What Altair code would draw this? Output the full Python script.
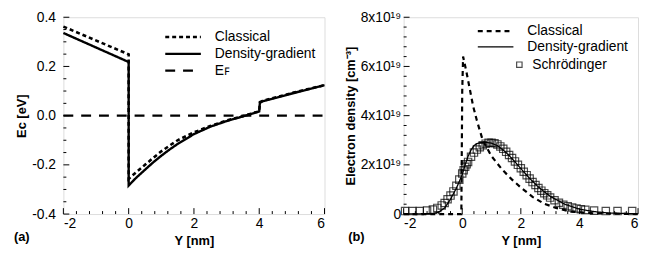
import altair as alt
import pandas as pd

# ---------------- Panel (a): conduction band edge ----------------
a_cl_x = [-2, 0, 0, 0.1, 0.25, 0.5, 0.75, 1, 1.25, 1.5, 2, 2.5, 3, 3.5, 4, 4.02, 4.1, 5, 6]
a_cl_y = [0.362, 0.249, -0.257, -0.245, -0.228, -0.2, -0.172, -0.145, -0.122, -0.1, -0.068,
          -0.042, -0.02, -0.002, 0.018, 0.055, 0.06, 0.092, 0.124]
a_dg_x = [-2, 0, 0, 0.1, 0.25, 0.5, 0.75, 1, 1.25, 1.5, 2, 2.5, 3, 3.5, 4, 4.02, 4.1, 5, 6]
a_dg_y = [0.336, 0.218, -0.284, -0.27, -0.25, -0.22, -0.19, -0.163, -0.138, -0.115, -0.075,
          -0.045, -0.022, -0.003, 0.017, 0.052, 0.058, 0.09, 0.124]
a_ef_x = [-2, 6]
a_ef_y = [0, 0]
a_series = ["Classical", "Density-gradient", "Eꜰ"]

# ---------------- Panel (b): electron density (x10^19 cm^-3) ----------------
b_cl_x = [-2, -0.03, 0.0, 0.03, 0.14, 0.37, 0.5, 0.7, 1.0, 1.37, 1.7, 2.0, 2.4, 2.8, 3.2, 3.7, 4.5, 6]
b_cl_v = [0, 0, 5.0, 6.4, 5.8, 4.4, 3.8, 3.0, 2.35, 1.8, 1.4, 1.08, 0.7, 0.42, 0.25, 0.1, 0.03, 0]
b_dg_x = [-2, -1.0, -0.8, -0.6, -0.4, -0.2, 0, 0.1, 0.2, 0.3, 0.4, 0.5, 0.6, 0.8, 1.0, 1.2,
          1.4, 1.6, 1.8, 2.0, 2.3, 2.6, 3.0, 3.5, 4.0, 4.5, 5, 6]
b_dg_v = [0, 0.02, 0.08, 0.25, 0.6, 1.05, 1.6, 2.0, 2.35, 2.6, 2.78, 2.86, 2.9, 2.92, 2.88, 2.78,
          2.6, 2.38, 2.12, 1.85, 1.45, 1.1, 0.72, 0.4, 0.2, 0.1, 0.04, 0.01]
b_sch_x = [-1.95, -1.7, -1.45, -1.2, -1.0, -0.85, -0.7, -0.6, -0.5, -0.4, -0.3, -0.2, -0.1, 0,
           0.05, 0.1, 0.15, 0.2, 0.3, 0.4, 0.5, 0.6, 0.7, 0.8, 0.9, 1.0, 1.1, 1.2, 1.3, 1.4, 1.5,
           1.6, 1.7, 1.8, 1.9, 2.0, 2.1, 2.2, 2.3, 2.4, 2.5, 2.6, 2.7, 2.8, 2.9, 3.0, 3.15, 3.3,
           3.45, 3.6, 3.75, 3.9, 4.05, 4.2, 4.5, 4.9, 5.3, 5.8]
b_sch_v = [0.12, 0.12, 0.12, 0.14, 0.18, 0.25, 0.35, 0.45, 0.6, 0.75, 0.92, 1.15, 1.4, 1.65,
           1.78, 1.92, 2.02, 2.12, 2.33, 2.5, 2.62, 2.72, 2.8, 2.86, 2.9, 2.9, 2.88, 2.83, 2.75,
           2.65, 2.53, 2.4, 2.28, 2.14, 2.0, 1.86, 1.72, 1.58, 1.44, 1.3, 1.18, 1.06, 0.95, 0.85,
           0.76, 0.67, 0.56, 0.46, 0.38, 0.32, 0.27, 0.23, 0.2, 0.17, 0.14, 0.12, 0.12, 0.12]
b_series = ["Classical", "Density-gradient"]

# ---------------- ticks ----------------
x_major = [-2, 0, 2, 4, 6]
x_minor = [-1.6, -1.2, -0.8, -0.4, 0.4, 0.8, 1.2, 1.6, 2.4, 2.8, 3.2, 3.6, 4.4, 4.8, 5.2, 5.6]
a_y_major = [-0.4, -0.2, 0.0, 0.2, 0.4]
a_y_minor = [-0.35, -0.3, -0.25, -0.15, -0.1, -0.05, 0.05, 0.1, 0.15, 0.25, 0.3, 0.35]
b_y_major = [0, 2, 4, 6, 8]
b_y_minor = [0.4, 0.8, 1.2, 1.6, 2.4, 2.8, 3.2, 3.6, 4.4, 4.8, 5.2, 5.6, 6.4, 6.8, 7.2, 7.6]

FONT = "Liberation Sans"
W1, W2, H = 264, 237, 199


def mk(series, xs, ys):
    return pd.DataFrame({"series": series, "x": xs, "y": ys, "i": list(range(len(xs)))})


dfa = pd.concat([
    mk(a_series[0], a_cl_x, a_cl_y),
    mk(a_series[1], a_dg_x, a_dg_y),
    mk(a_series[2], a_ef_x, a_ef_y),
])
dfb = pd.concat([
    mk(b_series[0], b_cl_x, b_cl_v),
    mk(b_series[1], b_dg_x, b_dg_v),
])
dfs = pd.DataFrame({"series": "Schrödinger", "x": b_sch_x, "y": b_sch_v})

x_scale = alt.Scale(domain=[-2, 6], nice=False, zero=False)
ya_scale = alt.Scale(domain=[-0.4, 0.4], nice=False, zero=False)
yb_scale = alt.Scale(domain=[0, 8], nice=False, zero=False)

common_axis = dict(ticks=False, domain=False, grid=False, labelFont=FONT, labelFontSize=14,
                   labelColor="black", titleFont=FONT, titleFontSize=13, titleFontWeight="bold",
                   titleColor="black")

x_axis = alt.Axis(values=x_major, title="Y [nm]", labelPadding=3, titlePadding=4,
                  labelExpr="(datum.value < 0 ? '-' : '') + abs(datum.value)", **common_axis)
ya_axis = alt.Axis(values=a_y_major, title="Eᴄ [eV]", labelPadding=8, titlePadding=3,
                   labelExpr="(datum.value < 0 ? '-' : '') + format(abs(datum.value), '.1f')",
                   **common_axis)
yb_axis = alt.Axis(values=b_y_major, title="Electron density [cm⁻³]", labelPadding=3,
                   titlePadding=3,
                   labelExpr="datum.value == 0 ? '0' : datum.value + 'x10¹⁹'", **common_axis)

# flat, wide custom line symbol (length ~36 px at size 81)
LINE_SYM = "M-4,0H4"
leg_common = dict(orient="none", title=None, symbolType=LINE_SYM, symbolSize=81,
                  symbolStrokeColor="black", labelFont=FONT, labelFontSize=14,
                  labelColor="black", labelOffset=25, padding=0)


def tick_layers(y_scale, x_ax, y_ax, ymaj, ymin, h):
    out = []
    for vals, ln in ((x_major, 6), (x_minor, 3)):
        d = pd.DataFrame({"t": vals})
        out.append(alt.Chart(d).mark_rule(color="black", strokeWidth=1).encode(
            x=alt.X("t:Q", scale=x_scale, axis=x_ax),
            y=alt.value(h), y2=alt.value(h - ln)))
    for vals, ln in ((ymaj, 6), (ymin, 3)):
        d = pd.DataFrame({"t": vals})
        out.append(alt.Chart(d).mark_rule(color="black", strokeWidth=1).encode(
            y=alt.Y("t:Q", scale=y_scale, axis=y_ax),
            x=alt.value(0), x2=alt.value(ln)))
    return out


# ---- left panel ----
leg_a = alt.Legend(legendX=114, legendY=13, rowPadding=3, **leg_common)
lines_a = alt.Chart(dfa).mark_line(color="black").encode(
    x=alt.X("x:Q", scale=x_scale, axis=x_axis),
    y=alt.Y("y:Q", scale=ya_scale, axis=ya_axis),
    strokeDash=alt.StrokeDash("series:N", scale=alt.Scale(domain=a_series,
                              range=[[4, 3], [1, 0], [10, 8]]), legend=leg_a),
    strokeWidth=alt.StrokeWidth("series:N", scale=alt.Scale(domain=a_series,
                                range=[2.6, 2.2, 1.2]), legend=leg_a),
    order="i:Q",
)
lab_a = alt.Chart(pd.DataFrame({"t": ["(a)"]})).mark_text(
    align="left", baseline="middle", font=FONT, fontSize=13, fontWeight="bold", color="black"
).encode(text="t:N", x=alt.value(-50), y=alt.value(H + 23))

left = alt.layer(lines_a, *tick_layers(ya_scale, x_axis, ya_axis, a_y_major, a_y_minor, H),
                 lab_a).properties(width=W1, height=H)

# ---- right panel ----
leg_b = alt.Legend(legendX=86, legendY=7, rowPadding=2, **leg_common)
lines_b = alt.Chart(dfb).mark_line(color="black").encode(
    x=alt.X("x:Q", scale=x_scale, axis=x_axis),
    y=alt.Y("y:Q", scale=yb_scale, axis=yb_axis),
    strokeDash=alt.StrokeDash("series:N", scale=alt.Scale(domain=b_series,
                              range=[[5, 4], [1, 0]]), legend=leg_b),
    strokeWidth=alt.StrokeWidth("series:N", scale=alt.Scale(domain=b_series,
                                range=[2.2, 1.3]), legend=leg_b),
    order="i:Q",
)
pts_b = alt.Chart(dfs).mark_point(filled=False, color="black", size=55, strokeWidth=1.2).encode(
    x=alt.X("x:Q", scale=x_scale, axis=x_axis),
    y=alt.Y("y:Q", scale=yb_scale, axis=yb_axis),
    shape=alt.Shape("series:N", scale=alt.Scale(domain=["Schrödinger"], range=["square"]),
                    legend=alt.Legend(orient="none", legendX=110, legendY=41, title=None,
                                      symbolSize=30, symbolStrokeColor="black",
                                      symbolStrokeWidth=1.2, symbolFillColor="transparent",
                                      labelFont=FONT, labelFontSize=14, labelColor="black",
                                      labelOffset=6, padding=0)),
)
lab_b = alt.Chart(pd.DataFrame({"t": ["(b)"]})).mark_text(
    align="left", baseline="middle", font=FONT, fontSize=13, fontWeight="bold", color="black"
).encode(text="t:N", x=alt.value(-56), y=alt.value(H + 23))

right = alt.layer(lines_b, pts_b, *tick_layers(yb_scale, x_axis, yb_axis, b_y_major, b_y_minor, H),
                  lab_b).properties(width=W2, height=H)

chart = alt.hconcat(left, right, spacing=13).resolve_scale(
    strokeDash="independent", strokeWidth="independent", shape="independent",
    x="independent", y="independent"
).resolve_legend(strokeDash="independent", strokeWidth="independent", shape="independent"
).configure_view(stroke="black", strokeWidth=1).configure(
    padding={"left": 5, "top": 0, "right": -2, "bottom": 0}, font=FONT,
    background="white")

chart.save("out.html", embed_options={"renderer": "svg", "actions": False})
